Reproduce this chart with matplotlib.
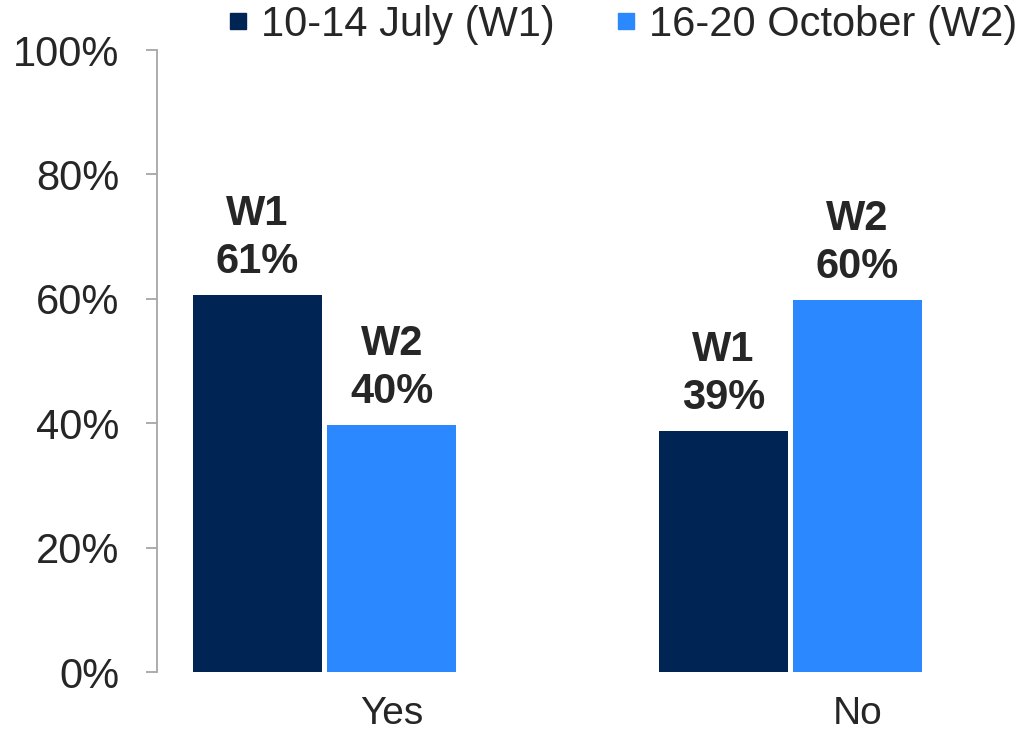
import matplotlib.pyplot as plt
from matplotlib.lines import Line2D
import numpy as np

plt.rcParams['font.family'] = ['Liberation Sans', 'DejaVu Sans']

categories = ['Yes', 'No']
series_names = ['10-14 July (W1)', '16-20 October (W2)']
short_names = ['W1', 'W2']
w1 = [60.6, 38.7]
w2 = [39.7, 59.8]
colors = ['#002554', '#2b88ff']
text_color = '#262626'

fig = plt.figure(figsize=(10.25, 7.31), dpi=100)
ax = fig.add_axes([157 / 1025, 59 / 731, (1010 - 157) / 1025, 622 / 731])

x = np.arange(len(categories))
width = 0.277
off = 0.144
values = [w1, w2]
for k, vals in enumerate(values):
    pos = x + (k * 2 - 1) * off
    bars = ax.bar(pos, vals, width, color=colors[k], label=series_names[k])
    for b, v in zip(bars, vals):
        ax.text(b.get_x() + b.get_width() / 2, v + 2.1, f'{short_names[k]}\n{v:.0f}%',
                ha='center', va='bottom', fontsize=30, fontweight='bold',
                color=text_color, linespacing=1.27)

ax.set_xlim(-0.36, 1.472)
ax.set_ylim(0, 100)
ax.set_yticks(range(0, 101, 20))
ax.set_yticklabels([f'{t}%' for t in range(0, 101, 20)])
ax.set_xticks(x + off)
ax.set_xticklabels(categories)

for s in ['top', 'right', 'bottom']:
    ax.spines[s].set_visible(False)
ax.spines['left'].set_color('#a6a6a6')
ax.spines['left'].set_linewidth(1.3)
ax.tick_params(axis='y', length=8, width=1.3, color='#a6a6a6', pad=19,
               labelsize=30, labelcolor=text_color)
# x labels sit right at the bottom edge, as in the reference
ax.tick_params(axis='x', length=0, pad=17, labelsize=28, labelcolor=text_color)

handles = [Line2D([], [], marker='s', linestyle='none', markersize=12,
                  color=c) for c in colors]
fig.legend(handles, series_names, loc='center left', bbox_to_anchor=(221 / 1025, 1 - 25 / 731),
           ncol=2, frameon=False, fontsize=30, handletextpad=0.15,
           columnspacing=1.32, handlelength=0.8, borderpad=0, borderaxespad=0,
           labelcolor=text_color)

fig.savefig('out.png', dpi=100)
